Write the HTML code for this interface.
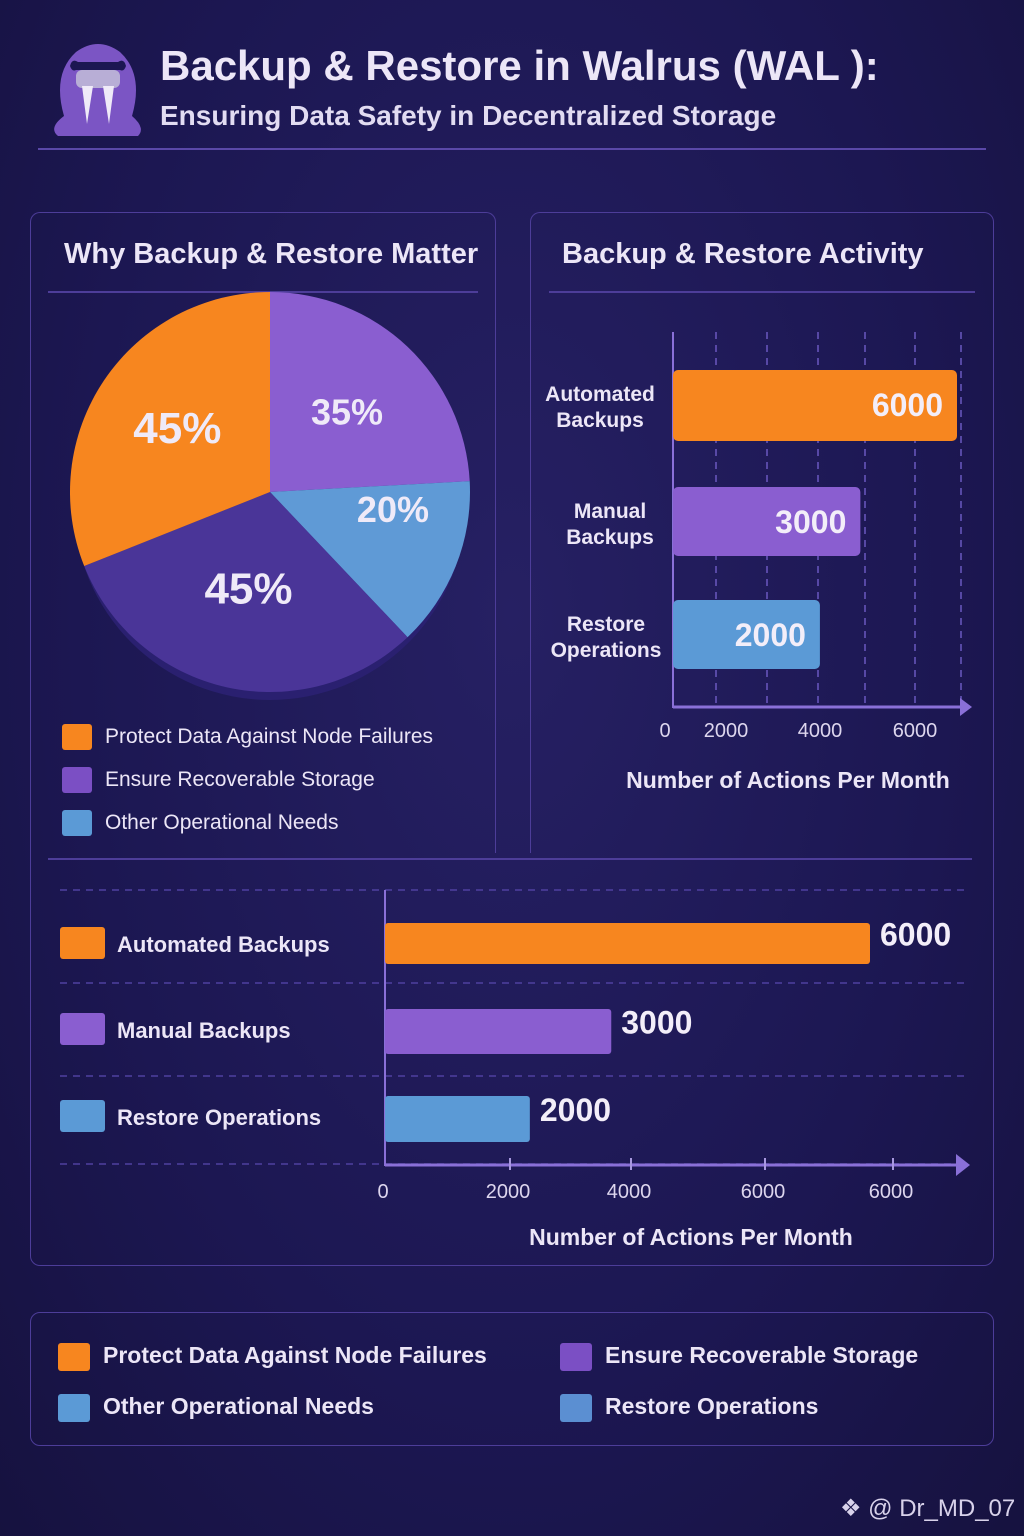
<!DOCTYPE html>
<html><head><meta charset="utf-8">
<style>
body{margin:0;width:1024px;height:1536px;background:radial-gradient(ellipse at 50% 40%,#262063 0%,#1c1752 60%,#16123f 100%);font-family:"Liberation Sans",sans-serif;color:#ece6f7;position:relative;overflow:hidden}
.abs{position:absolute}
.panel{position:absolute;border:1.5px solid #4d3d99;border-radius:10px}
.t{font-weight:bold}
svg text{font-family:"Liberation Sans",sans-serif}
</style></head><body>
<svg class="abs" style="left:46px;top:38px" width="104" height="102">
<path d="M18 78 Q6 36 30 14 Q52 -2 74 14 Q98 36 86 78 Q100 90 92 98 L12 98 Q2 90 18 78Z" fill="#7b55c4"/>
<path d="M24 28 Q26 20 32 24 L72 24 Q78 20 80 28 Q78 34 74 32 L30 32 Q26 34 24 28Z" fill="#1c1752"/>
<rect x="30" y="32" width="44" height="18" rx="6" fill="#b8aed6"/>
<path d="M36 48 L41 86 L47 48Z M57 48 L63 86 L68 48Z" fill="#efeaf8"/>
</svg>
<div class="abs t" style="left:160px;top:42px;font-size:42px;color:#ece6f7">Backup &amp; Restore in Walrus (WAL ):</div>
<div class="abs t" style="left:160px;top:100px;font-size:28px;color:#e2dcf2">Ensuring Data Safety in Decentralized Storage</div>
<div class="abs" style="left:38px;top:148px;width:948px;height:2px;background:#5a48a8"></div>

<div class="panel" style="left:30px;top:212px;width:464px;height:640px;border-bottom:none;border-radius:10px 10px 0 0"></div>
<div class="panel" style="left:530px;top:212px;width:462px;height:640px;border-bottom:none;border-radius:10px 10px 0 0"></div>
<div class="panel" style="left:30px;top:852px;width:962px;height:413px;border-top:none;border-radius:0 0 10px 10px"></div>
<div class="abs t" style="left:64px;top:238px;font-size:29px">Why Backup &amp; Restore Matter</div>
<div class="abs" style="left:48px;top:291px;width:430px;height:2px;background:#4d3d99"></div>
<div class="abs t" style="left:562px;top:238px;font-size:29px">Backup &amp; Restore Activity</div>
<div class="abs" style="left:549px;top:291px;width:426px;height:2px;background:#4d3d99"></div>
<div class="abs" style="left:48px;top:858px;width:924px;height:2px;background:#4d3d99"></div>

<svg class="abs" id="pie" style="left:0;top:0" width="520" height="720"></svg>
<div class="abs" style="left:62px;top:715px;font-size:21px;line-height:43px">
<div><span style="display:inline-block;width:30px;height:26px;background:#f7861f;border-radius:3px;vertical-align:middle;margin-right:13px"></span>Protect Data Against Node Failures</div>
<div><span style="display:inline-block;width:30px;height:26px;background:#7b4fc4;border-radius:3px;vertical-align:middle;margin-right:13px"></span>Ensure Recoverable Storage</div>
<div><span style="display:inline-block;width:30px;height:26px;background:#5b9ad6;border-radius:3px;vertical-align:middle;margin-right:13px"></span>Other Operational Needs</div>
</div>

<svg class="abs" id="bar1" style="left:530px;top:300px" width="470" height="510"></svg>
<svg class="abs" id="bar2" style="left:30px;top:860px" width="970" height="400"></svg>

<div class="panel" style="left:30px;top:1312px;width:962px;height:132px"></div>
<div class="abs t" style="left:58px;top:1330px;font-size:23px;line-height:51px">
<div><span style="display:inline-block;width:32px;height:28px;background:#f7861f;border-radius:3px;vertical-align:middle;margin-right:13px"></span>Protect Data Against Node Failures</div>
<div><span style="display:inline-block;width:32px;height:28px;background:#5b9ad6;border-radius:3px;vertical-align:middle;margin-right:13px"></span>Other Operational Needs</div></div>
<div class="abs t" style="left:560px;top:1330px;font-size:23px;line-height:51px">
<div><span style="display:inline-block;width:32px;height:28px;background:#7b4fc4;border-radius:3px;vertical-align:middle;margin-right:13px"></span>Ensure Recoverable Storage</div>
<div><span style="display:inline-block;width:32px;height:28px;background:#5b8fd2;border-radius:3px;vertical-align:middle;margin-right:13px"></span>Restore Operations</div></div>
<div class="abs" style="left:840px;top:1494px;font-size:24px;color:#d8d2ea">❖ @ Dr_MD_07</div>

<script>
const pieLabels=["35%","20%","45%","45%"];
const pieValues=[35,20,45,45];
const pieColors=["#8a5ed0","#5f9ad6","#4a3598","#f7861f"];
const barCategories=["Automated Backups","Manual Backups","Restore Operations"];
const barValues=[6000,3000,2000];
const barTicks=[0,2000,4000,6000];
const NS="http://www.w3.org/2000/svg";
function mk(p,tag,a){const e=document.createElementNS(NS,tag);for(const k in a)e.setAttribute(k,a[k]);p.appendChild(e);return e;}
// pie
(function(){
const s=document.getElementById('pie');const cx=270,cy=492,r=200;
const d=mk(s,'ellipse',{cx:cx,cy:cy+12,rx:r-4,ry:r-4,fill:'#2a2070'});


const tot=pieValues.reduce((a,b)=>a+b,0);let a0=0;
const lrs=[0.56,0.62,0.5,0.56];
pieValues.forEach((v,i)=>{
 const a1=a0+v/tot*2*Math.PI;
 const p=(a)=>[cx+r*Math.sin(a),cy-r*Math.cos(a)];
 const [x0,y0]=p(a0),[x1,y1]=p(a1);
 const path=mk(s,'path',{d:`M${cx} ${cy}L${x0} ${y0}A${r} ${r} 0 ${a1-a0>Math.PI?1:0} 1 ${x1} ${y1}Z`,fill:pieColors[i]});
 
 
 const am=(a0+a1)/2-(i==1?0.25:0),lr=r*lrs[i];
 const t=mk(s,'text',{x:cx+lr*Math.sin(am),y:cy-lr*Math.cos(am)+14,'text-anchor':'middle','font-size':i>=2?44:36,'font-weight':'bold',fill:'#efeaf8'});
 t.textContent=pieLabels[i];
 
 
 a0=a1;});
})();
// top bar chart
(function(){
const s=document.getElementById('bar1');const x0=143,xmax=427,max=6000;
const X=v=>x0+Math.pow(v/max,0.6)*(xmax-x0);
[186,237,288,335,385,431].forEach(x=>{mk(s,'line',{x1:x,y1:32,x2:x,y2:405,stroke:'#6a58c0','stroke-dasharray':'7 6','stroke-width':1.5});});
mk(s,'line',{x1:x0,y1:32,x2:x0,y2:408,stroke:'#8a70d8','stroke-width':2});
mk(s,'line',{x1:x0,y1:407,x2:432,y2:407,stroke:'#8a70d8','stroke-width':3});
mk(s,'path',{d:'M430 398L442 407L430 416Z',fill:'#8a70d8'});
const cols=["#f7861f","#8a5ed0","#5b9ad6"];const ys=[70,187,300];
const lab=[["Automated","Backups"],["Manual","Backups"],["Restore","Operations"]];
barValues.forEach((v,i)=>{
 const b=mk(s,'rect',{x:x0,y:ys[i],width:X(v)-x0,height:i==0?71:69,rx:5,fill:cols[i]});
 
 
 const t=mk(s,'text',{x:X(v)-14,y:ys[i]+46,'text-anchor':'end','font-size':32,'font-weight':'bold',fill:'#f3eef9'});t.textContent=v;
 lab[i].forEach((l,j)=>{const tt=mk(s,'text',{x:[70,80,76][i],y:ys[i]+31+j*26,'text-anchor':'middle','font-size':21,'font-weight':'bold',fill:'#ece6f7'});tt.textContent=l;});
});
const tx=[135,196,290,385];
barTicks.forEach((v,i)=>{const t=mk(s,'text',{x:tx[i],y:437,'text-anchor':'middle','font-size':20,fill:'#ddd6ee'});t.textContent=v;});
const at=mk(s,'text',{x:258,y:488,'text-anchor':'middle','font-size':23,'font-weight':'bold',fill:'#ece6f7'});at.textContent="Number of Actions Per Month";
})();
// bottom bar chart
(function(){
const s=document.getElementById('bar2');const x0=355,xmax=840,max=6000;
const X=v=>x0+Math.pow(v/max,1.1)*(xmax-x0);
[30,123,216,304].forEach(y=>{mk(s,'line',{x1:30,y1:y,x2:935,y2:y,stroke:'#4f40a0','stroke-dasharray':'7 6','stroke-width':1.5});});
mk(s,'line',{x1:x0,y1:30,x2:x0,y2:306,stroke:'#8a70d8','stroke-width':2});
mk(s,'line',{x1:x0,y1:305,x2:930,y2:305,stroke:'#8a70d8','stroke-width':3});
mk(s,'path',{d:'M926 294L940 305L926 316Z',fill:'#8a70d8'});
const cols=["#f7861f","#8a5ed0","#5b9ad6"];const ys=[63,149,236];const hs=[41,45,46];
barValues.forEach((v,i)=>{
 const b=mk(s,'rect',{x:x0,y:ys[i],width:X(v)-x0,height:hs[i],rx:3,fill:cols[i]});
 
 
 const t=mk(s,'text',{x:X(v)+10,y:ys[i]+hs[i]/2+2,'font-size':32,'font-weight':'bold',fill:'#f3eef9'});t.textContent=v;
 mk(s,'rect',{x:30,y:ys[i]+4,width:45,height:32,rx:3,fill:cols[i]});
 const l=mk(s,'text',{x:87,y:ys[i]+29,'font-size':22,'font-weight':'bold',fill:'#ece6f7'});l.textContent=barCategories[i];
});
const tx=[353,478,599,733,861];const tl=[0,2000,4000,6000,6000];
tl.forEach((v,i)=>{if(i>0)mk(s,'line',{x1:tx[i]+2,y1:298,x2:tx[i]+2,y2:310,stroke:'#a898e0','stroke-width':2});const t=mk(s,'text',{x:tx[i],y:338,'text-anchor':'middle','font-size':20,fill:'#ddd6ee'});t.textContent=v;});
const at=mk(s,'text',{x:661,y:385,'text-anchor':'middle','font-size':23,'font-weight':'bold',fill:'#ece6f7'});at.textContent="Number of Actions Per Month";
})();
</script>
</body></html>
